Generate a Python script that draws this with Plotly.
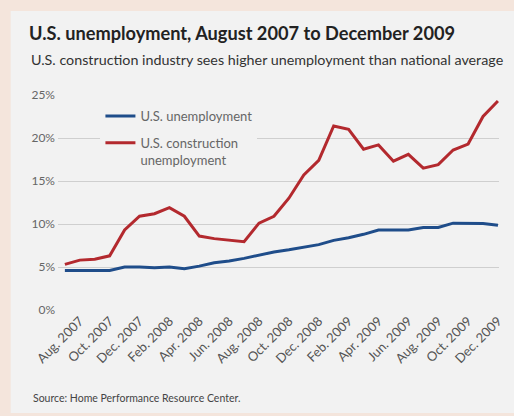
import plotly.graph_objects as go

months = ["Jul. 2007", "Aug. 2007", "Sep. 2007", "Oct. 2007", "Nov. 2007", "Dec. 2007",
          "Jan. 2008", "Feb. 2008", "Mar. 2008", "Apr. 2008", "May 2008", "Jun. 2008",
          "Jul. 2008", "Aug. 2008", "Sep. 2008", "Oct. 2008", "Nov. 2008", "Dec. 2008",
          "Jan. 2009", "Feb. 2009", "Mar. 2009", "Apr. 2009", "May 2009", "Jun. 2009",
          "Jul. 2009", "Aug. 2009", "Sep. 2009", "Oct. 2009", "Nov. 2009", "Dec. 2009"]

us_unemployment = [4.6, 4.6, 4.6, 4.6, 5.0, 5.0, 4.9, 5.0, 4.8, 5.1,
                   5.5, 5.7, 6.0, 6.4, 6.75, 7.0, 7.3, 7.6, 8.1, 8.4,
                   8.8, 9.3, 9.3, 9.3, 9.6, 9.6, 10.1, 10.1, 10.05, 9.85]

construction_unemployment = [5.3, 5.8, 5.9, 6.3, 9.3, 10.9, 11.2, 11.9, 10.9, 8.6,
                             8.3, 8.15, 7.95, 10.1, 10.9, 13.0, 15.7, 17.4, 21.4, 21.0,
                             18.7, 19.2, 17.3, 18.1, 16.5, 16.9, 18.6, 19.3, 22.5, 24.3]

tick_labels = ["Aug. 2007", "Oct. 2007", "Dec. 2007", "Feb. 2008", "Apr. 2008",
               "Jun. 2008", "Aug. 2008", "Oct. 2008", "Dec. 2008", "Feb. 2009",
               "Apr. 2009", "Jun. 2009", "Aug. 2009", "Oct. 2009", "Dec. 2009"]

W, H = 514, 416
ML, MR, MT, MB = 58, 9, 95, 106
PW, PH = W - ML - MR, H - MT - MB


def px_x(px):
    return (px - ML) / PW


def px_y(py):
    return (H - MB - py) / PH


FONT = "Lato"

fig = go.Figure()
fig.add_trace(go.Scatter(x=months, y=us_unemployment, mode="lines",
                         name="U.S. unemployment", legendgroup="a",
                         line=dict(color="#1f4d8a", width=3)))
fig.add_trace(go.Scatter(x=months, y=construction_unemployment, mode="lines",
                         name="U.S. construction<br>unemployment", legendgroup="b",
                         line=dict(color="#b3292e", width=3)))

fig.update_layout(
    width=W, height=H, autosize=False,
    margin=dict(l=ML, r=MR, t=MT, b=MB, pad=0),
    paper_bgcolor="#f4e5dc",
    plot_bgcolor="#f2f2f2",
    font=dict(family=FONT, color="#555555"),
    title=dict(text="<b>U.S. unemployment, August 2007 to December 2009</b>",
               x=29 / W, xanchor="left", xref="container",
               y=1 - 34 / H, yanchor="middle", yref="container",
               font=dict(family=FONT, size=18.2, color="#222222")),
    showlegend=True,
    legend=dict(x=px_x(101), y=px_y(101), xanchor="left", yanchor="top",
                bgcolor="#f2f2f2", borderwidth=0, valign="top",
                font=dict(family=FONT, size=13, color="#666666"),
                tracegroupgap=7),
    xaxis=dict(type="category", range=[-0.46, 29.07],
               tickmode="array", tickvals=tick_labels, ticktext=tick_labels,
               tickangle=-45, showgrid=False, showline=False, zeroline=False,
               ticks="", tickfont=dict(family=FONT, size=13, color="#555555")),
    yaxis=dict(range=[0, 25], dtick=5, ticksuffix="%",
               showgrid=True, gridcolor="#cfcfcf", gridwidth=1,
               zeroline=False, showline=False, ticks="", ticklabelstandoff=2,
               tickfont=dict(family=FONT, size=12, color="#666666")),
    shapes=[dict(type="rect", xref="paper", yref="paper", layer="below",
                 x0=px_x(10), x1=px_x(530), y0=px_y(413), y1=px_y(11),
                 fillcolor="#f2f2f2", line=dict(width=0))],
    annotations=[
        dict(text="U.S. construction industry sees higher unemployment than national average",
             xref="paper", yref="paper", x=px_x(29), y=px_y(60),
             xanchor="left", yanchor="middle", showarrow=False,
             font=dict(family=FONT, size=14.3, color="#333333")),
        dict(text="Source: Home Performance Resource Center.",
             xref="paper", yref="paper", x=px_x(31), y=px_y(398),
             xanchor="left", yanchor="middle", showarrow=False,
             font=dict(family=FONT, size=10.5, color="#444444")),
    ],
)

fig.write_html("out.html")
